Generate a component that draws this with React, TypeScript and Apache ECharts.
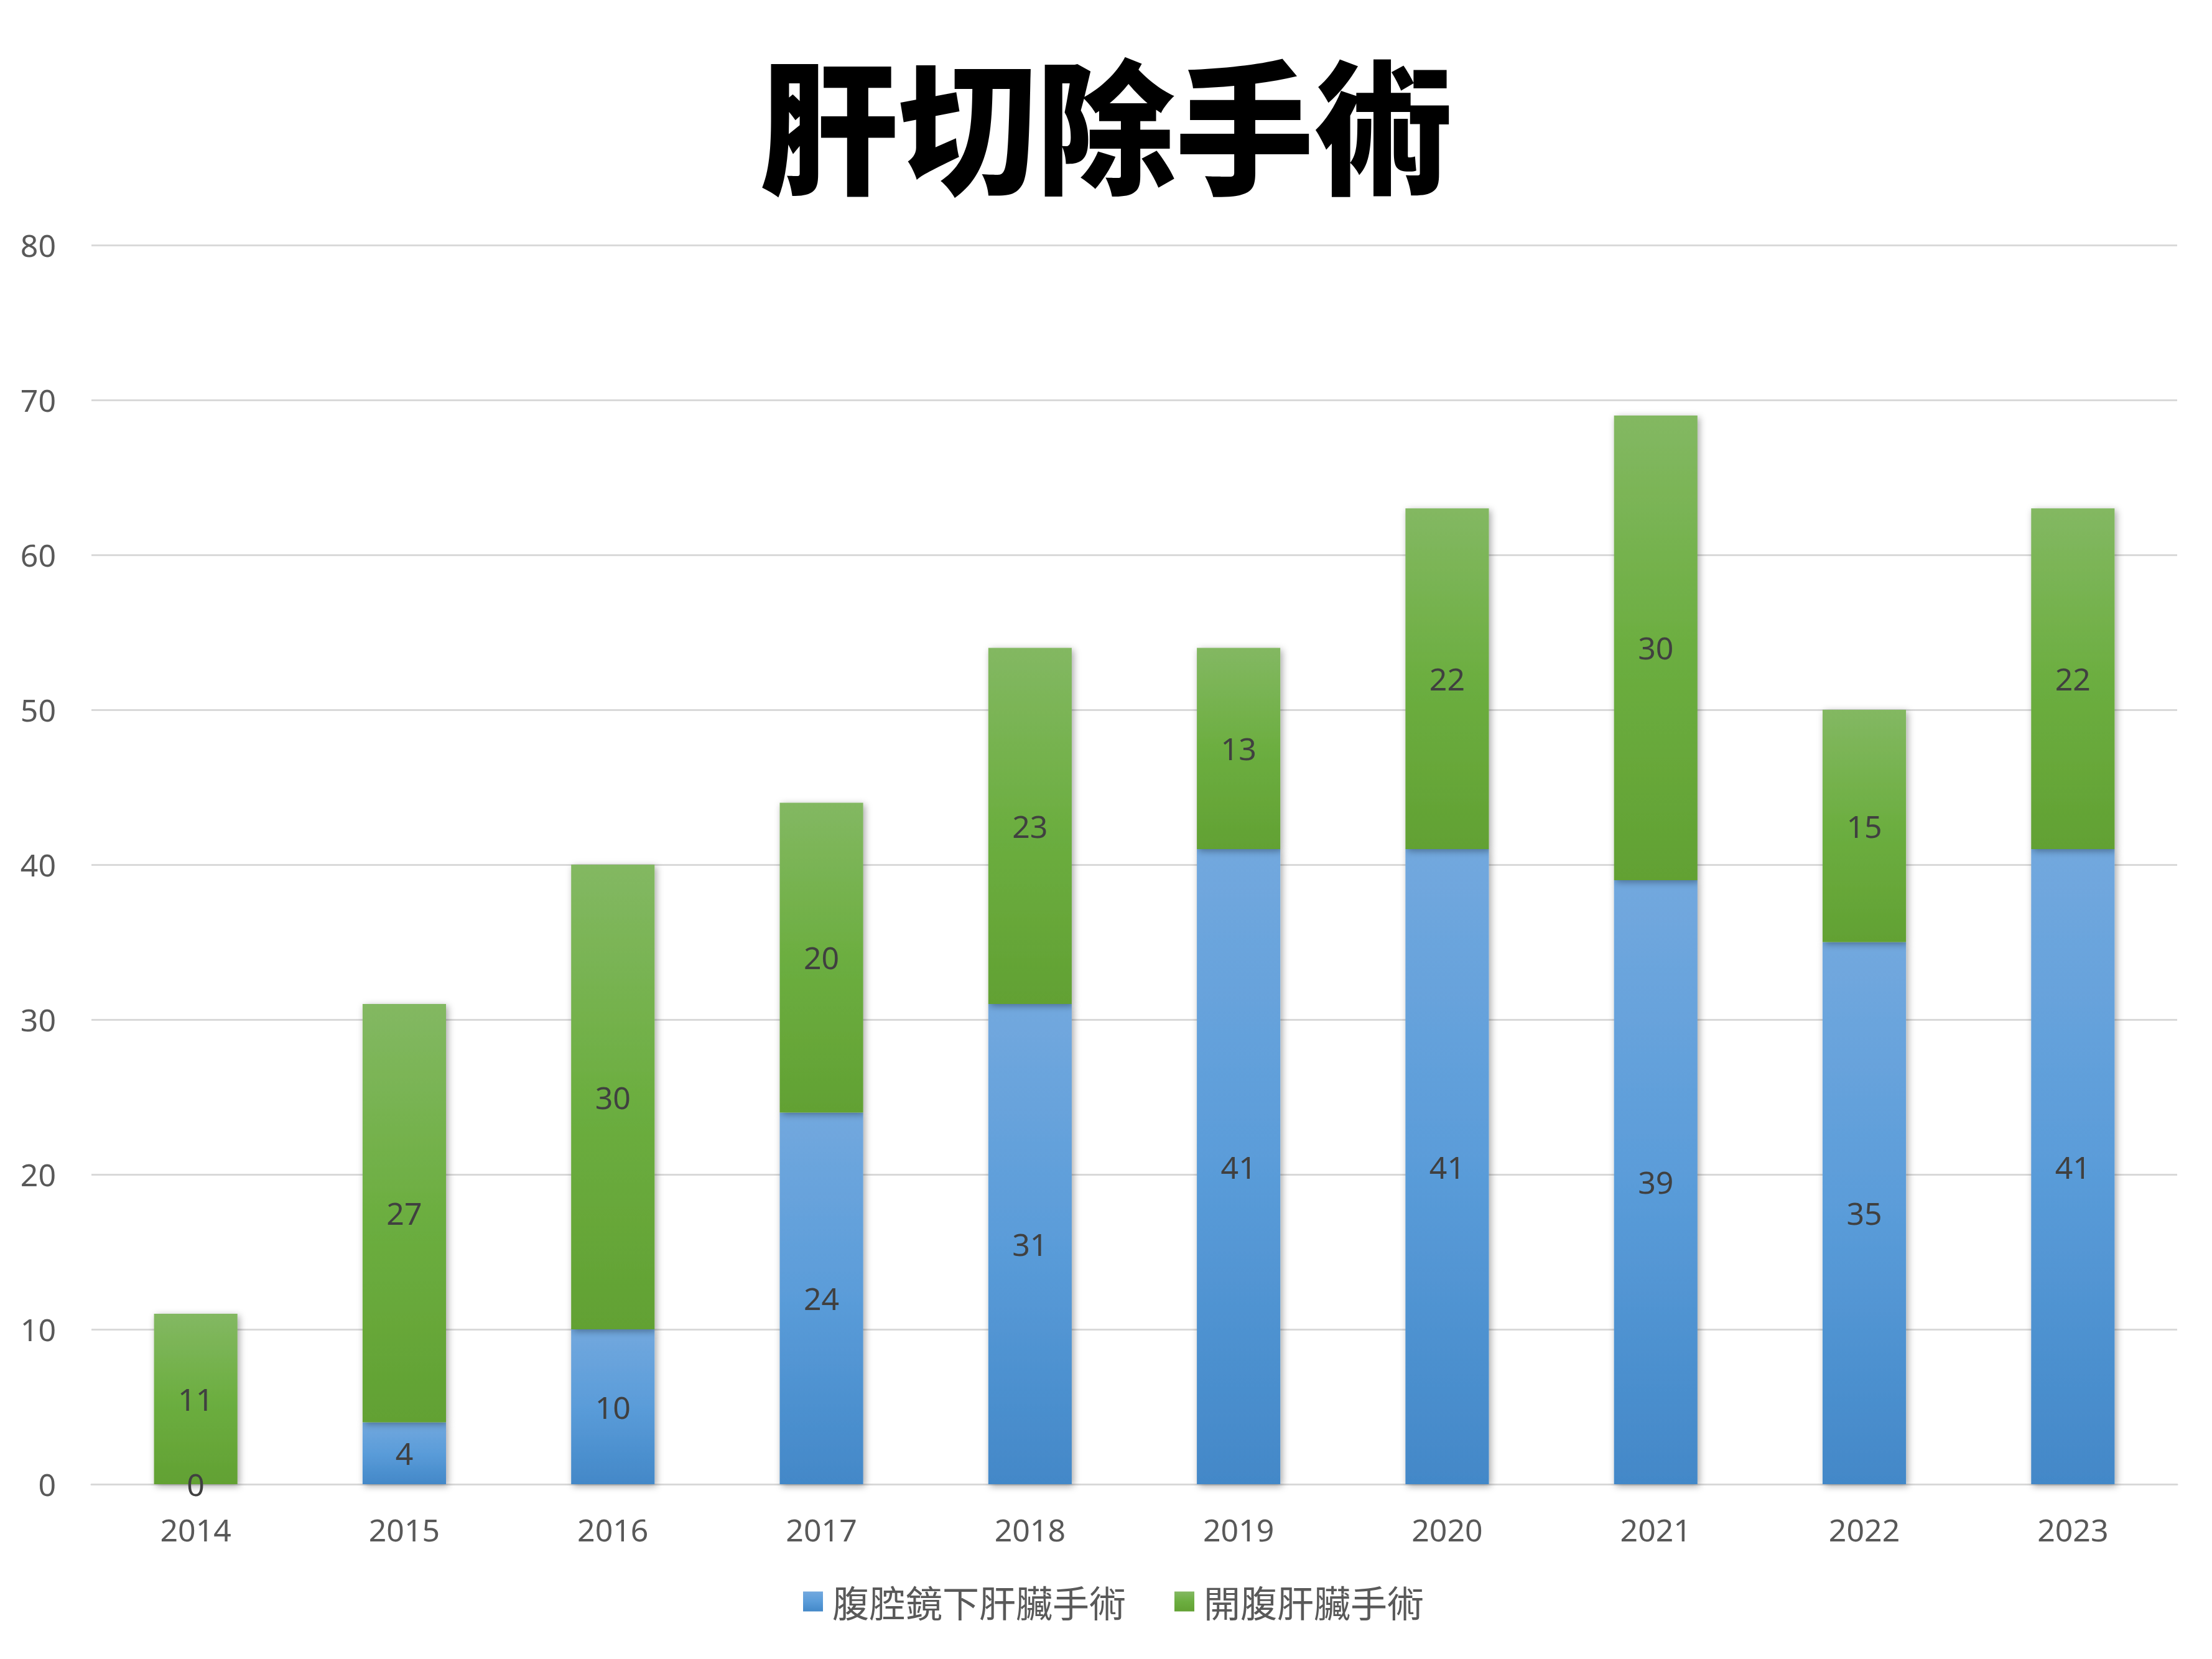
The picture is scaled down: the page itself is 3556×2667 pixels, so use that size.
import React, { useEffect, useRef } from "react";
import * as echarts from "echarts";

const titleText = "肝切除手術";
const years = ["2014", "2015", "2016", "2017", "2018", "2019", "2020", "2021", "2022", "2023"];
const laparoscopicName = "腹腔鏡下肝臟手術";
const openName = "開腹肝臟手術";
const laparoscopic = [0, 4, 10, 24, 31, 41, 41, 39, 35, 41];
const openSurgery = [11, 27, 30, 20, 23, 13, 22, 30, 15, 22];
const yMin = 0;
const yMax = 80;
const yInterval = 10;

const blueGrad = () =>
  new echarts.graphic.LinearGradient(0, 0, 0, 1, [
    { offset: 0, color: "#72a8de" },
    { offset: 0.5, color: "#5a9cd9" },
    { offset: 1, color: "#4388c8" },
  ]);
const greenGrad = () =>
  new echarts.graphic.LinearGradient(0, 0, 0, 1, [
    { offset: 0, color: "#83b862" },
    { offset: 0.5, color: "#6cae40" },
    { offset: 1, color: "#62a133" },
  ]);

export default function App() {
  const ref = useRef<HTMLDivElement>(null);
  useEffect(() => {
    if (!ref.current) return;
    const chart = echarts.init(ref.current, null, { renderer: "svg" });
    const labelStyle = {
      show: true,
      position: "inside" as const,
      color: "#404040",
      fontSize: 50,
      fontFamily: "Noto Sans",
    };
    const shadow = {
      shadowBlur: 12,
      shadowColor: "rgba(0,0,0,0.35)",
      shadowOffsetX: 3,
      shadowOffsetY: 3,
    };
    chart.setOption({
      animation: false,
      backgroundColor: "#ffffff",
      graphic: [
        {
          type: "text",
          x: 1778,
          y: 192,
          scaleX: 0.96,
          style: {
            text: titleText,
            fontSize: 232,
            fontWeight: 900,
            fontFamily: "Noto Sans CJK TC",
            fill: "#000000",
            align: "center",
            verticalAlign: "middle",
            textAlign: "center",
            textVerticalAlign: "middle",
          },
        },
      ],
      grid: { left: 147, right: 56, top: 394, bottom: 281, containLabel: false },
      legend: {
        show: true,
        top: 2540,
        left: 1286,
        icon: "rect",
        itemWidth: 32,
        itemHeight: 32,
        itemGap: 78,
        textStyle: {
          fontSize: 59,
          color: "#595959",
          fontFamily: "Noto Sans CJK TC",
          padding: [0, 0, 0, 10],
        },
        data: [laparoscopicName, openName],
      },
      xAxis: {
        type: "category",
        data: years,
        axisLine: { show: true, lineStyle: { color: "#d9d9d9", width: 3 } },
        axisTick: { show: false },
        axisLabel: { color: "#595959", fontSize: 50, fontFamily: "Noto Sans", margin: 48 },
      },
      yAxis: {
        type: "value",
        min: yMin,
        max: yMax,
        interval: yInterval,
        axisLine: { show: false },
        axisTick: { show: false },
        splitLine: { lineStyle: { color: "#d9d9d9", width: 3 } },
        axisLabel: { color: "#595959", fontSize: 50, fontFamily: "Noto Sans", margin: 57 },
      },
      series: [
        {
          name: laparoscopicName,
          type: "bar",
          stack: "total",
          barWidth: "40%",
          data: laparoscopic,
          itemStyle: { color: blueGrad(), ...shadow },
          label: labelStyle,
        },
        {
          name: openName,
          type: "bar",
          stack: "total",
          barWidth: "40%",
          data: openSurgery,
          itemStyle: { color: greenGrad(), ...shadow },
          label: labelStyle,
        },
      ],
    });
    return () => chart.dispose();
  }, []);
  return (
    <div
      ref={ref}
      style={{ position: "absolute", left: 0, top: 0, width: 3556, height: 2667 }}
    />
  );
}
